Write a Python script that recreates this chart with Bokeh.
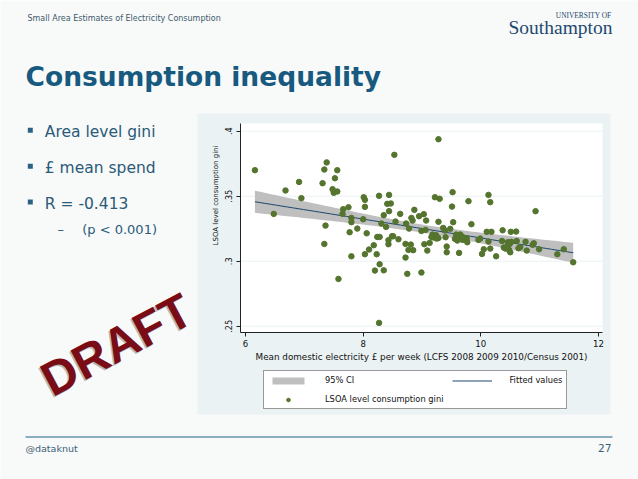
import numpy as np
from bokeh.plotting import figure
from bokeh.models import Range1d, Label, Legend, LegendItem, FixedTicker, BoxAnnotation, LinearAxis
from bokeh.embed import file_html
from bokeh.resources import INLINE

# ---------------- data ----------------
spend = [6.16, 6.48, 6.68, 6.91, 6.95, 7.31, 7.34, 7.38, 7.36, 7.34,
         7.48, 7.50, 7.52, 7.56, 7.56, 7.58, 7.66, 7.65, 7.75, 7.77,
         7.80, 7.80, 7.80, 7.90, 8.00, 8.01, 8.03, 8.03, 8.06, 8.03,
         8.10, 8.18, 8.20, 8.23, 8.24, 8.27, 8.27, 8.28, 8.28, 8.31,
         8.35, 8.35, 8.39, 8.41, 8.43, 8.43, 8.44, 8.44, 8.47, 8.49,
         8.51, 8.53, 8.55, 8.60, 8.63, 8.72, 8.72, 8.73, 8.75, 8.77,
         8.78, 8.81, 8.82, 8.84, 8.85, 8.87, 8.95, 8.99, 8.99, 9.03,
         9.04, 9.06, 9.07, 9.09, 9.13, 9.16, 9.18, 9.20, 9.22, 9.24,
         9.25, 9.28, 9.28, 9.28, 9.30, 9.36, 9.39, 9.40, 9.42, 9.42,
         9.48, 9.52, 9.51, 9.53, 9.56, 9.58, 9.60, 9.61, 9.63, 9.65,
         9.68, 9.69, 9.76, 9.77, 9.79, 9.84, 9.96, 9.99, 10.02, 10.05,
         10.10, 10.13, 10.13, 10.16, 10.16, 10.18, 10.26, 10.37, 10.36, 10.39,
         10.42, 10.45, 10.46, 10.48, 10.49, 10.50, 10.52, 10.51, 10.60, 10.61,
         10.64, 10.67, 10.76, 10.78, 10.88, 10.90, 10.93, 10.99, 11.30, 11.41,
         11.57]
gini = [0.370, 0.3364, 0.3544, 0.361, 0.3485, 0.360, 0.3705, 0.376, 0.3274, 0.3133,
        0.3554, 0.3526, 0.3638, 0.3536, 0.370, 0.2864, 0.340, 0.3364, 0.3415, 0.3223,
        0.3333, 0.3038, 0.330, 0.3251, 0.3323, 0.3492, 0.3472, 0.3418, 0.3215, 0.3054,
        0.309, 0.3123, 0.2928, 0.3054, 0.3187, 0.3503, 0.2526, 0.3187, 0.2977, 0.329,
        0.293, 0.3354, 0.3264, 0.3441, 0.3162, 0.3131, 0.3385, 0.3510, 0.3444, 0.3192,
        0.3192, 0.3818, 0.3305, 0.3169, 0.3364, 0.3133, 0.3028, 0.329, 0.2903, 0.3087,
        0.3251, 0.3128, 0.3333, 0.3313, 0.3085, 0.3395, 0.3346, 0.3233, 0.2913, 0.3362,
        0.3131, 0.3241, 0.3313, 0.3082, 0.3141, 0.3187, 0.3205, 0.3182, 0.3492, 0.320,
        0.3174, 0.3179, 0.3938, 0.3303, 0.348, 0.3256, 0.3236, 0.3185, 0.3113, 0.3069,
        0.3249, 0.3531, 0.342, 0.330, 0.3172, 0.3205, 0.3159, 0.3185, 0.3064, 0.3205,
        0.319, 0.3164, 0.3177, 0.3146, 0.3462, 0.3285, 0.3164, 0.3174, 0.3056, 0.3092,
        0.3226, 0.351, 0.3151, 0.3097, 0.3454, 0.3226, 0.3038, 0.3238, 0.3156, 0.3105,
        0.3097, 0.3118, 0.3146, 0.3087, 0.3133, 0.3069, 0.3149, 0.3226, 0.3228, 0.3156,
        0.31, 0.3108, 0.3149, 0.3082, 0.3126, 0.3138, 0.3385, 0.3092, 0.3054, 0.3092,
        0.2992]
x_ticks = [6, 8, 10, 12]
y_ticks = [0.25, 0.3, 0.35, 0.4]
y_tick_labels = [".25", ".3", ".35", ".4"]
legend_labels = ["95% CI", "Fitted values", "LSOA level consumption gini"]
x_title = "Mean domestic electricity \u00a3 per week (LCFS 2008 2009 2010/Census 2001)"
y_title = "LSOA level consumption gini"
bullets = ["Area level gini", "\u00a3 mean spend", "R = -0.413"]
sub_bullet = "(p < 0.001)"

# ---------------- linear fit with 95% CI (like Stata lfitci) ----------------
xa = np.array(spend)
ya = np.array(gini)
n = len(xa)
slope, intercept = np.polyfit(xa, ya, 1)
xs = np.linspace(xa.min(), xa.max(), 60)
fit = intercept + slope * xs
resid = ya - (intercept + slope * xa)
s = np.sqrt((resid ** 2).sum() / (n - 2))
sxx = ((xa - xa.mean()) ** 2).sum()
se = s * np.sqrt(1.0 / n + (xs - xa.mean()) ** 2 / sxx)
tcrit = 1.977
lo = fit - tcrit * se
hi = fit + tcrit * se

# ---------------- styles / geometry ----------------
SLIDE_BG = "#f8f9f9"
GRAPH_BG = "#eaf2f3"
TITLE_C = "#17597f"
TEXT_C = "#2a5b78"
FONT = "DejaVu Sans"

W, H = 638, 479                          # the whole slide is the plot frame
FL, FR, FT, FB = 240, 602, 123, 332      # Stata plot region in slide pixels
X0, X1 = 5.915, 12.068                   # data limits of the plot region
Y0, Y1 = 0.2452, 0.4059
KX = (X1 - X0) / (FR - FL)
KY = (Y1 - Y0) / (FB - FT)


def X(px):
    return X0 + (px - FL) * KX


def Y(py):
    return Y1 - (py - FT) * KY


p = figure(width=W, height=H, x_range=Range1d(X(0), X(W)), y_range=Range1d(Y(H), Y(0)),
           x_axis_location=None, y_axis_location=None,
           toolbar_location=None, output_backend="svg", min_border=0)
p.background_fill_color = SLIDE_BG
p.border_fill_color = SLIDE_BG
p.outline_line_color = None
p.grid.visible = False


def box(l, r, t, b, color):
    p.add_layout(BoxAnnotation(left=X(l), right=X(r), top=Y(t), bottom=Y(b),
                               fill_color=color, fill_alpha=1.0, line_color=None,
                               level="underlay"))


def lab(px, py, text, fs, color, font=FONT, style="normal", align="left", angle=0.0, alpha=1.0):
    """px, py: wanted baseline origin in slide pixels; fs: font size in px."""
    d = 0.32 * fs  # compensate the renderer's baseline offset (along the text's up direction)
    sx = px - d * np.sin(angle)
    sy = py - d * np.cos(angle)
    p.add_layout(Label(x=X(sx), y=Y(sy), text=text, text_font=font, text_font_size=f"{fs}px",
                       text_color=color, text_font_style=style, text_align=align,
                       text_baseline="alphabetic", angle=float(angle), text_alpha=alpha))


# Stata graph region (light bluish) and white plot region
box(197, 610, 113, 414, GRAPH_BG)
p.add_layout(BoxAnnotation(left=X0, right=X1, bottom=Y0, top=Y1, fill_color="white",
                           fill_alpha=1.0, line_color=None, level="underlay"))

# ---------------- axes (library axes, fixed at the plot-region edges) ----------------
xaxis = LinearAxis(fixed_location=Y0, bounds=(X0, X1), ticker=FixedTicker(ticks=x_ticks),
                   axis_label=x_title)
yaxis = LinearAxis(fixed_location=X0, bounds=(Y0, Y1), ticker=FixedTicker(ticks=y_ticks),
                   major_label_overrides=dict(zip(y_ticks, y_tick_labels)),
                   major_label_orientation="vertical")
for ax in (xaxis, yaxis):
    ax.minor_tick_line_color = None
    ax.major_tick_in = 0
    ax.major_tick_out = 4
    ax.axis_line_color = "#222222"
    ax.major_tick_line_color = "#222222"
    ax.major_label_text_font = FONT
    ax.major_label_text_color = "#111111"
    ax.axis_label_text_font = FONT
    ax.axis_label_text_font_style = "normal"
    ax.axis_label_text_color = "#111111"
xaxis.major_label_text_font_size = "8.6px"
yaxis.major_label_text_font_size = "8.2px"
xaxis.major_label_standoff = 3
yaxis.major_label_standoff = 4
xaxis.axis_label_text_font_size = "8.8px"
xaxis.axis_label_standoff = 2
p.add_layout(xaxis, "below")
p.add_layout(yaxis, "left")

# light horizontal gridlines at the y ticks
p.segment(x0=[X0] * len(y_ticks), x1=[X1] * len(y_ticks), y0=y_ticks, y1=y_ticks,
          line_color=GRAPH_BG, line_width=1)

# ---------------- data marks ----------------
band = p.varea(x=xs, y1=lo, y2=hi, fill_color="#bfbfbf", fill_alpha=1.0)
fline = p.line(x=xs, y=fit, line_color="#1a476f", line_width=1)
pts = p.scatter(x=spend, y=gini, size=5.5, fill_color="#55752f", line_color="#55752f")

legend = Legend(items=[LegendItem(label=legend_labels[0], renderers=[band]),
                       LegendItem(label=legend_labels[1], renderers=[fline]),
                       LegendItem(label=legend_labels[2], renderers=[pts])],
                orientation="horizontal", ncols=2, location=(263, H - 409),
                label_text_font=FONT, label_text_font_size="8.3px", label_text_color="#111111",
                glyph_width=40, glyph_height=9, label_height=9, label_standoff=17,
                padding=4, spacing=9, margin=0,
                border_line_color="#333333", border_line_width=1,
                background_fill_color="white", background_fill_alpha=1.0)
p.add_layout(legend, "center")

# y-axis title (rotated, as in the Stata graph)
p.add_layout(Label(x=X(215), y=Y(195), text=y_title, text_font=FONT, text_font_size="7px",
                   text_color="#111111", text_align="center", text_baseline="middle",
                   angle=float(np.pi / 2)))

# ---------------- slide texts ----------------
lab(27, 20.5, "Small Area Estimates of Electricity Consumption", 8, "#3c5b6d")
lab(611, 17, "UNIVERSITY OF", 7.4, "#1d4a70", font="Liberation Serif", align="right")
lab(612, 33, "Southampton", 19.5, "#1d4a70", font="Liberation Serif", align="right")
lab(25, 84, "Consumption inequality", 26.5, TITLE_C, style="bold")

for yc in [129.8, 165.8, 201.5]:
    box(27.3, 32.3, yc - 2.5, yc + 2.5, "#2b6284")
for txt, yb in zip(bullets, [136, 172.7, 208.3]):
    lab(44.3, yb, txt, 15.5, TEXT_C)
lab(57, 232.7, "\u2013", 13, TEXT_C)
lab(81.7, 232.7, sub_bullet, 13, TEXT_C)

ang = np.deg2rad(28)
lab(50.0, 397.5, "DRAFT", 48, "#8a8a8a", font="Liberation Sans", style="bold", angle=ang, alpha=0.6)
lab(51.5, 396.0, "DRAFT", 48, "#7a0c16", font="Liberation Sans", style="bold", angle=ang)

# footer
box(25, 612, 435.9, 437.1, "#1e6386")
lab(25, 451, "@dataknut", 9.5, "#3c6178")
lab(611, 451, "27", 10.6, "#3c6178", align="right")

open("out.html", "w").write(file_html(p, INLINE))
